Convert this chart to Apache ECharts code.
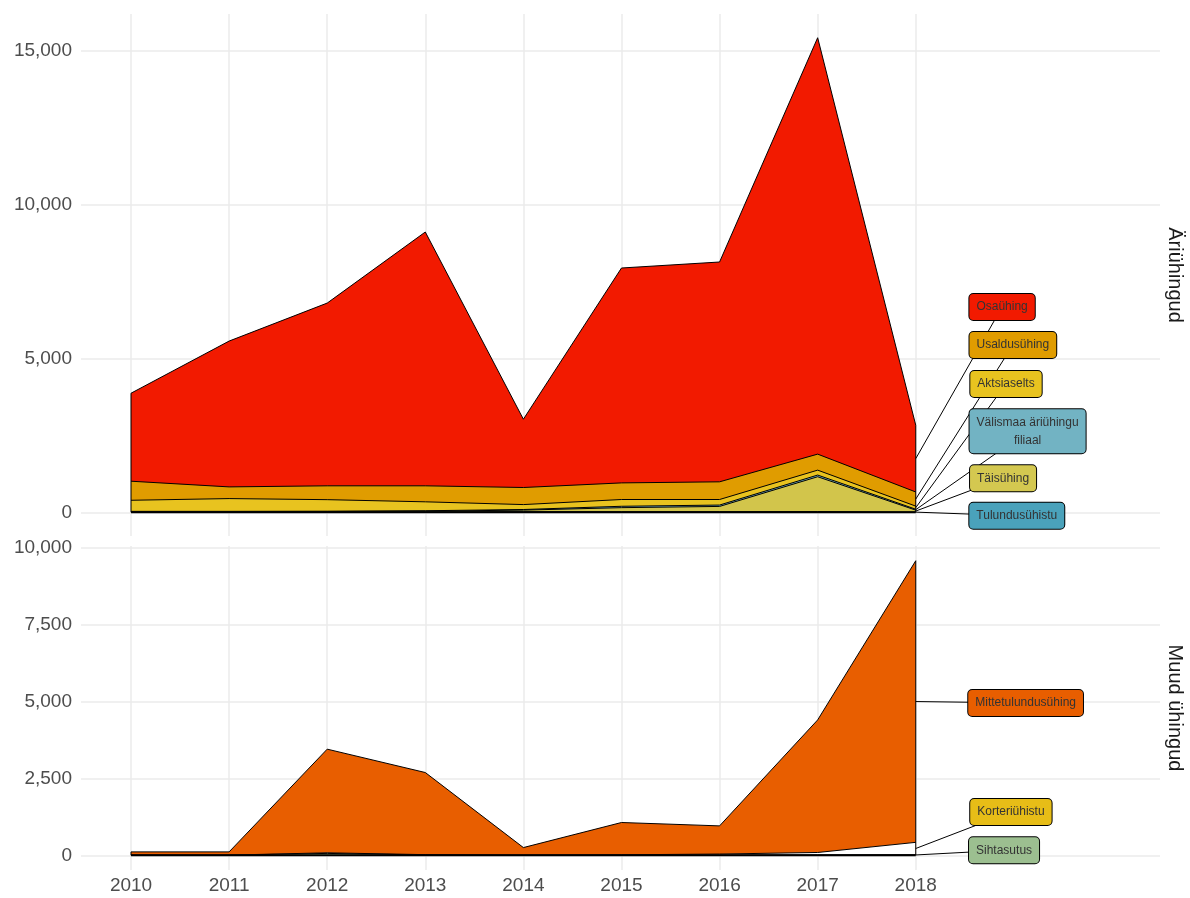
<!DOCTYPE html>
<html>
<head>
<meta charset="utf-8">
<title>Ühingud 2010-2018</title>
<script src="https://cdn.jsdelivr.net/npm/echarts@6/dist/echarts.min.js"></script>
<style>
  html, body { margin: 0; padding: 0; background: #fff; }
  #chart { width: 1190px; height: 898px; }
</style>
</head>
<body>
<div id="chart"></div>
<script>
// andmed
const years = [2010, 2011, 2012, 2013, 2014, 2015, 2016, 2017, 2018];
const xTicks = [2010, 2011, 2012, 2013, 2014, 2015, 2016, 2017, 2018];

// Äriühingud, alt üles
const tulundusyhistu = [15, 15, 15, 15, 20, 20, 20, 25, 10];
const taisyhing = [5, 5, 10, 20, 50, 130, 170, 1130, 60];
const valismaa = [10, 10, 10, 15, 20, 45, 45, 55, 30];
const aktsiaselts = [360, 415, 375, 290, 160, 220, 180, 160, 100];
const usaldusyhing = [620, 380, 450, 520, 555, 540, 575, 520, 460];
const osayhing = [2860, 4740, 5940, 8250, 2220, 6985, 7145, 13535, 2170];

// Muud ühingud, alt üles
const sihtasutus = [5, 5, 60, 10, 5, 5, 10, 15, 20];
const korteriyhistu = [0, 0, 20, 10, 0, 10, 30, 75, 400];
const mittetulundus = [105, 105, 3370, 2670, 245, 1050, 915, 4310, 9155];

const topTicks = [0, 5000, 10000, 15000];
const bottomTicks = [0, 2500, 5000, 7500, 10000];

// siltide asukohad (andmeteljel)
const topLabelX = [2019.03, 2018.89, 2019.14, 2018.92, 2018.99, 2018.88];
const topLabelY = [-114, 1105, 2633, 4170, 5438, 6673];
const bottomLabelX = [2018.90, 2018.97, 2019.12];
const bottomLabelY = [163, 1408, 4951];

const topLayers = [
  { name: 'Tulundusühistu', data: tulundusyhistu, fill: '#4AA2BB', label: '#4AA2BB' },
  { name: 'Täisühing', data: taisyhing, fill: '#D2C54B', label: '#D4C850' },
  { name: 'Välismaa äriühingu\nfiliaal', data: valismaa, fill: '#72B3C3', label: '#72B3C3' },
  { name: 'Aktsiaselts', data: aktsiaselts, fill: '#E8C31F', label: '#E8C31F' },
  { name: 'Usaldusühing', data: usaldusyhing, fill: '#E09C00', label: '#E09C00' },
  { name: 'Osaühing', data: osayhing, fill: '#F21A00', label: '#F21A00' }
];
const bottomLayers = [
  { name: 'Sihtasutus', data: sihtasutus, fill: '#9CBF90', label: '#9CBF90' },
  { name: 'Korteriühistu', data: korteriyhistu, fill: '#FFFFFF', label: '#E7BD17' },
  { name: 'Mittetulundusühing', data: mittetulundus, fill: '#E85E00', label: '#E85E00' }
];

const font = 'Liberation Sans, Arial, sans-serif';
const gridColor = '#EBEBEB';

// kuhjatud alad: iga kiht täidetakse nullist kumulatiivse ülemise piirini,
// alumised kihid joonistatakse pealmiste peale
function buildPanel(layers, labelX, labelY, idx) {
  const series = [];
  const n = layers.length;
  const last = years.length - 1;
  const cum = years.map(() => 0);
  const segs = [];
  const labels = [];
  layers.forEach(function (l, i) {
    const below = cum[last];
    l.data.forEach(function (v, j) { cum[j] += v; });
    const mid = below + l.data[last] / 2;
    series.push({
      type: 'line',
      name: l.name,
      xAxisIndex: idx,
      yAxisIndex: idx,
      data: years.map(function (y, j) { return [y, cum[j]]; }),
      symbol: 'none',
      lineStyle: { color: '#000', width: 1 },
      areaStyle: { color: l.fill, opacity: 1, origin: 0 },
      z: 2 + (n - i),
      silent: true
    });
    segs.push({ coords: [[labelX[i], labelY[i]], [years[last], mid]] });
    labels.push({
      value: [labelX[i], labelY[i]],
      name: l.name,
      label: { backgroundColor: l.label }
    });
  });
  const total = cum.slice();
  // polügooni servad
  series.push({
    type: 'line', xAxisIndex: idx, yAxisIndex: idx, symbol: 'none', z: 12, silent: true,
    lineStyle: { color: '#000', width: 1 },
    data: [[years[0], 0], [years[0], total[0]]]
  });
  series.push({
    type: 'line', xAxisIndex: idx, yAxisIndex: idx, symbol: 'none', z: 12, silent: true,
    lineStyle: { color: '#000', width: 1 },
    data: [[years[last], 0], [years[last], total[last]]]
  });
  series.push({
    type: 'line', xAxisIndex: idx, yAxisIndex: idx, symbol: 'none', z: 12, silent: true,
    lineStyle: { color: '#000', width: 2 },
    data: [[years[0], 0], [years[last], 0]]
  });
  series.push({
    type: 'lines',
    coordinateSystem: 'cartesian2d',
    xAxisIndex: idx, yAxisIndex: idx,
    z: 15, silent: true,
    lineStyle: { color: '#000', width: 1, opacity: 1 },
    data: segs
  });
  series.push({
    type: 'scatter',
    xAxisIndex: idx, yAxisIndex: idx,
    symbolSize: 0,
    z: 20, silent: true,
    itemStyle: { opacity: 1 },
    label: {
      show: true,
      position: 'inside',
      formatter: '{b}',
      color: '#333',
      opacity: 1,
      fontFamily: font,
      fontSize: 12,
      lineHeight: 18,
      align: 'center',
      padding: [4, 7, 4, 7],
      borderColor: '#000',
      borderWidth: 1,
      borderRadius: 4
    },
    data: labels
  });
  return series;
}

const chart = echarts.init(document.getElementById('chart'), null, { renderer: 'canvas' });

const xAxisBase = {
  type: 'value',
  min: 2009.49,
  max: 2020.49,
  axisLine: { show: false },
  axisTick: { show: false, customValues: xTicks },
  splitLine: { show: true, lineStyle: { color: gridColor, width: 1.5 } }
};

chart.setOption({
  backgroundColor: '#fff',
  animation: false,
  grid: [
    { left: 81, right: 30, top: 14, height: 522, outerBoundsMode: 'none' },
    { left: 81, right: 30, top: 546, height: 324, outerBoundsMode: 'none' }
  ],
  xAxis: [
    Object.assign({}, xAxisBase, {
      gridIndex: 0,
      axisLabel: { show: false, customValues: xTicks }
    }),
    Object.assign({}, xAxisBase, {
      gridIndex: 1,
      axisLabel: {
        show: true, customValues: xTicks, color: '#4D4D4D', fontSize: 19,
        fontFamily: font, margin: 6,
        formatter: function (v) { return String(v); }
      }
    })
  ],
  yAxis: [
    {
      type: 'value', gridIndex: 0, min: -771, max: 16196,
      axisLine: { show: false },
      axisTick: { show: false, customValues: topTicks },
      axisLabel: {
        customValues: topTicks, color: '#4D4D4D', fontSize: 19, fontFamily: font, margin: 9,
        formatter: function (v) { return v.toLocaleString('en-US'); }
      },
      splitLine: { lineStyle: { color: gridColor, width: 1.5 } }
    },
    {
      type: 'value', gridIndex: 1, min: -479, max: 10054,
      axisLine: { show: false },
      axisTick: { show: false, customValues: bottomTicks },
      axisLabel: {
        customValues: bottomTicks, color: '#4D4D4D', fontSize: 19, fontFamily: font, margin: 9,
        formatter: function (v) { return v.toLocaleString('en-US'); }
      },
      splitLine: { lineStyle: { color: gridColor, width: 1.5 } }
    }
  ],
  graphic: [
    {
      type: 'text', x: 1175, y: 275, rotation: -Math.PI / 2,
      style: {
        text: 'Äriühingud', fill: '#1A1A1A', font: '20px ' + font,
        align: 'center', verticalAlign: 'middle'
      }
    },
    {
      type: 'text', x: 1175, y: 708, rotation: -Math.PI / 2,
      style: {
        text: 'Muud ühingud', fill: '#1A1A1A', font: '20px ' + font,
        align: 'center', verticalAlign: 'middle'
      }
    }
  ],
  series: [].concat(
    buildPanel(topLayers, topLabelX, topLabelY, 0),
    buildPanel(bottomLayers, bottomLabelX, bottomLabelY, 1)
  )
});
</script>
</body>
</html>
